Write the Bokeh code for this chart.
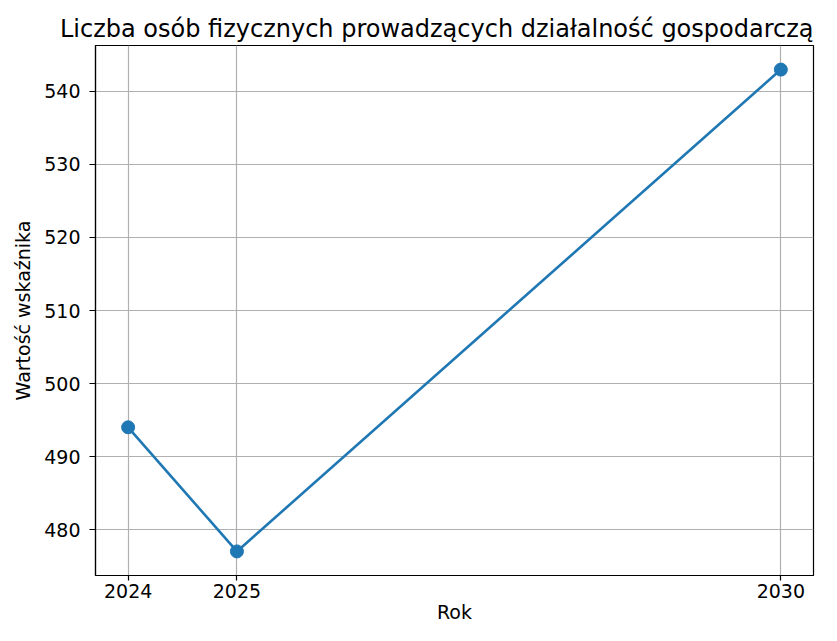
from bokeh.plotting import figure
from bokeh.models import FixedTicker, Range1d
from bokeh.embed import file_html
from bokeh.resources import INLINE

years = [2024, 2025, 2030]
values = [494, 477, 543]
y_ticks = [480, 490, 500, 510, 520, 530, 540]
title_text = "Liczba osób fizycznych prowadzących działalność gospodarczą"
x_label = "Rok"
y_label = "Wartość wskaźnika"

FONT = "DejaVu Sans"
BLUE = "#1f77b4"

pad_x = (max(years) - min(years)) * 0.05
pad_y = (max(values) - min(values)) * 0.05

p = figure(width=821, height=625, output_backend="svg", toolbar_location=None,
           x_range=Range1d(min(years) - pad_x, max(years) + pad_x),
           y_range=Range1d(min(values) - pad_y, max(values) + pad_y),
           min_border_left=95, min_border_right=8, min_border_top=45, min_border_bottom=46)

p.title.text = title_text
p.title.text_font = FONT
p.title.text_font_size = "24px"
p.title.text_font_style = "normal"
p.title.align = "right"
p.title.text_color = "#000000"
p.title.standoff = 6

p.line(years, values, line_color=BLUE, line_width=2.6)
p.scatter(years, values, size=13, fill_color=BLUE, line_color=BLUE)

p.xaxis.ticker = FixedTicker(ticks=years)
p.yaxis.ticker = FixedTicker(ticks=y_ticks)
p.xaxis.axis_label = x_label
p.yaxis.axis_label = y_label

for ax in (p.xaxis, p.yaxis):
    ax.axis_label_text_font = FONT
    ax.axis_label_text_font_size = "19px"
    ax.axis_label_text_font_style = "normal"
    ax.axis_label_text_color = "#000000"
    ax.major_label_text_font = FONT
    ax.major_label_text_font_size = "19px"
    ax.major_label_text_color = "#000000"
    ax.minor_tick_line_color = None
    ax.major_tick_out = 6
    ax.major_tick_in = 0
    ax.major_tick_line_color = "black"
    ax.major_tick_line_width = 1.2
    ax.axis_line_color = "black"
    ax.axis_line_width = 1.2

p.xaxis.major_tick_out = 5
p.xaxis.major_label_standoff = 3
p.xaxis.axis_label_standoff = 0
p.yaxis.major_label_standoff = 9
p.yaxis.axis_label_standoff = 7

p.outline_line_color = "black"
p.outline_line_width = 1.2
p.outline_line_alpha = 1.0

p.xgrid.grid_line_color = "#b0b0b0"
p.ygrid.grid_line_color = "#b0b0b0"
p.xgrid.grid_line_width = 1.2
p.ygrid.grid_line_width = 1.2
p.background_fill_color = "white"
p.border_fill_color = "white"

open("out.html", "w").write(file_html(p, INLINE))
